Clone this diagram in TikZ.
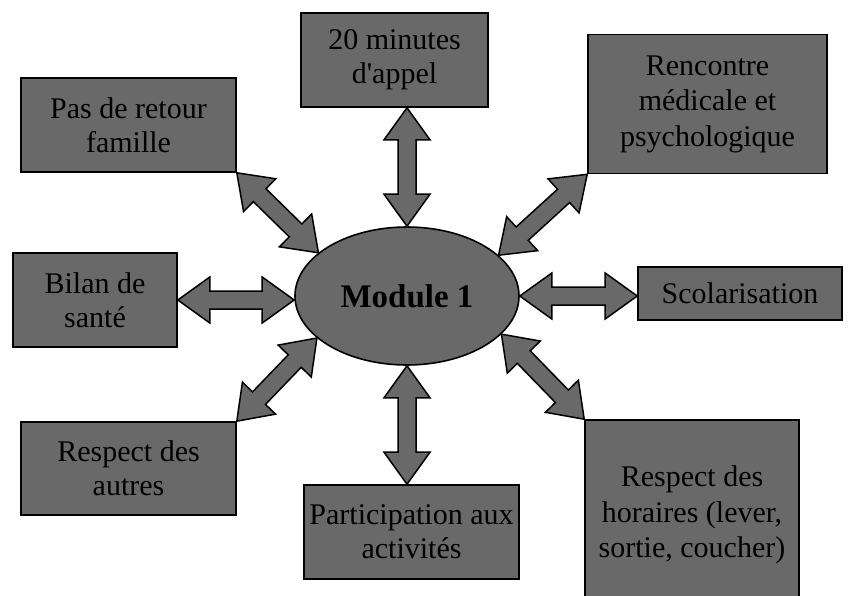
\documentclass[tikz,border=0pt]{standalone}
\usepackage{fontspec}
\setmainfont{Liberation Serif}
\usetikzlibrary{calc,shapes.geometric}
\definecolor{boxgray}{RGB}{105,105,105}
\tikzset{
  card/.style={draw=black, fill=boxgray, line width=1.6pt, align=center,
    font=\fontsize{30}{34}\selectfont, inner sep=0pt},
  tall/.style={font=\fontsize{30}{35.5}\selectfont},
  hub/.style={ellipse, draw=black, fill=boxgray, line width=1.6pt, inner sep=0pt,
    minimum width=224pt, minimum height=138pt,
    font=\fontsize{33}{36}\selectfont\bfseries},
  dbl/.style={draw=black, fill=boxgray, line width=1.5pt, line join=miter}
}
\newcommand{\dblarrow}[2]{%
  \draw[dbl] (#1)
    -- ($(#1)!32pt!(#2)!23pt!90:(#2)$)
    -- ($(#1)!32pt!(#2)!9pt!90:(#2)$)
    -- ($(#2)!32pt!(#1)!9pt!-90:(#1)$)
    -- ($(#2)!32pt!(#1)!23pt!-90:(#1)$)
    -- (#2)
    -- ($(#2)!32pt!(#1)!23pt!90:(#1)$)
    -- ($(#2)!32pt!(#1)!9pt!90:(#1)$)
    -- ($(#1)!32pt!(#2)!9pt!-90:(#2)$)
    -- ($(#1)!32pt!(#2)!23pt!-90:(#2)$)
    -- cycle;}
\begin{document}
\begin{tikzpicture}[x=1pt,y=-1pt]
  \useasboundingbox (0,0) rectangle (850,596);
  \node[hub] (hub) at (407,296) {Module 1};
  \node[card, minimum width=187pt, minimum height=94pt] (appel) at (394.5,60) {20 minutes\\d\textquotesingle appel};
  \node[card, minimum width=215pt, minimum height=94pt] (famille) at (128.5,125) {Pas de retour\\famille};
  \node[card, tall, minimum width=239pt, minimum height=139pt] (rencontre) at (707.5,104) {Rencontre\\médicale et\\psychologique};
  \node[card, minimum width=164pt, minimum height=94pt] (bilan) at (95,300) {Bilan de\\santé};
  \node[card, minimum width=204pt, minimum height=53pt] (scol) at (740,293.5) {Scolarisation};
  \node[card, minimum width=215pt, minimum height=93pt] (autres) at (128.5,468.5) {Respect des\\autres};
  \node[card, minimum width=215pt, minimum height=94pt] (particip) at (411.5,532) {Participation aux\\activités};
  \node[card, tall, minimum width=214pt, minimum height=190pt] (horaires) at (692,515) {Respect des\\horaires (lever,\\sortie, coucher)};
  \coordinate (t1) at (appel.south -| hub.north);
  \coordinate (b1) at (particip.north -| hub.south);
  \coordinate (l1) at (bilan.east);
  \coordinate (l2) at (hub.west |- bilan.east);
  \coordinate (r1) at (scol.west |- hub.east);
  \dblarrow{t1}{hub.north}
  \dblarrow{hub.south}{b1}
  \dblarrow{l1}{l2}
  \dblarrow{hub.east}{r1}
  \dblarrow{famille.south east}{hub.154}
  \dblarrow{rencontre.south west}{hub.24}
  \dblarrow{autres.north east}{hub.205}
  \dblarrow{horaires.north west}{hub.338}
\end{tikzpicture}
\end{document}
